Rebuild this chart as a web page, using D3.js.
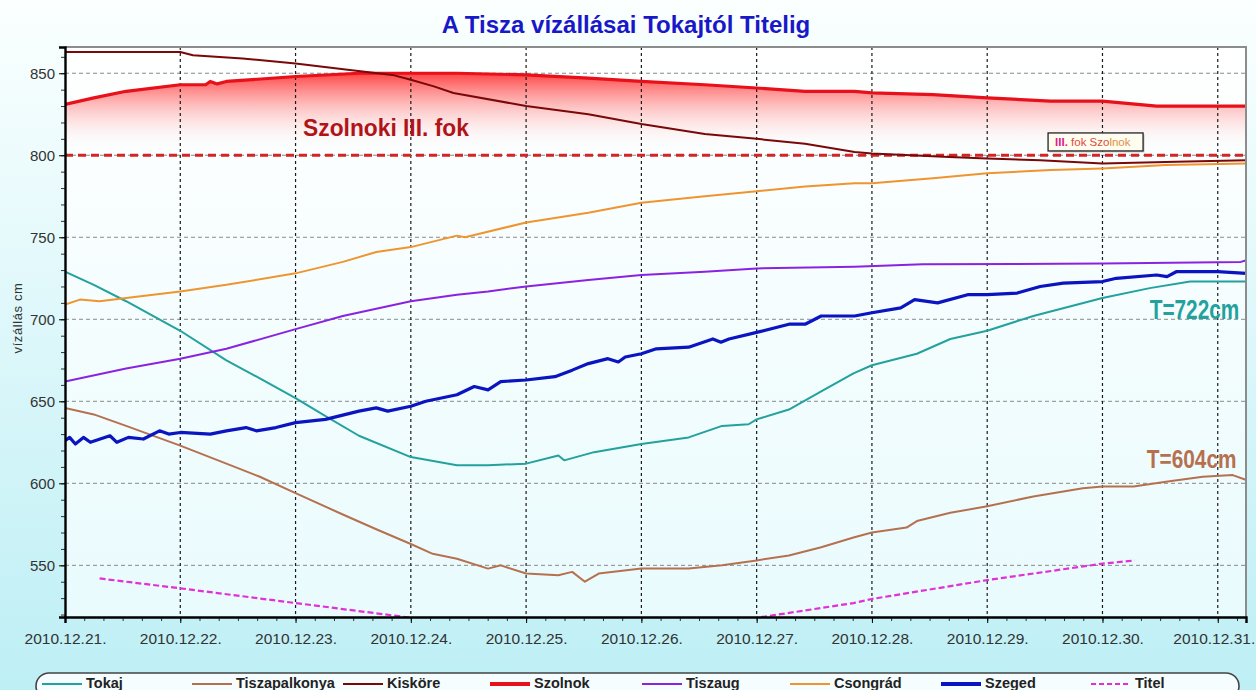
<!DOCTYPE html>
<html lang='hu'>
  <head>
    <meta charset='utf-8'>
    <title>A Tisza vízállásai Tokajtól Titelig</title>
    <script src='https://cdn.jsdelivr.net/npm/d3@7'></script>
    <style>
      html, body { margin: 0; padding: 0; }
      body { width: 1256px; height: 690px; overflow: hidden; }
      svg { display: block; font-family: 'Liberation Sans', Arial, sans-serif; }
    </style>
  </head>
  <body>
    <div class='vis'></div>
    <script>
      // water levels (cm), [day offset from 2010.12.21 00:00, value]
      const tokaj = [[0,729],[0.25,721],[0.53,711],[1,693],[1.4,675],[1.69,664],[2,652],[2.26,641],[2.55,629],[3,616],[3.4,611],[3.67,611],[4,612],[4.28,617],[4.33,614],[4.59,619],[5,624],[5.41,628],[5.7,635],[5.93,636],[6,639],[6.28,645],[6.56,656],[6.84,667],[7,672],[7.39,679],[7.68,688],[8,693],[8.4,702],[9,713],[9.41,719],[9.76,723],[10.25,723]];
      const tiszapalkonya = [[0,646],[0.25,642],[0.53,635],[1,623],[1.4,612],[1.69,604],[2,594],[2.41,581],[2.7,572],[3,563],[3.19,557],[3.4,554],[3.67,548],[3.78,550],[4,545],[4.28,544],[4.4,546],[4.51,540],[4.63,545],[5,548],[5.41,548],[5.7,550],[6,553],[6.28,556],[6.56,561],[6.84,567],[7,570],[7.3,573],[7.39,577],[7.68,582],[8,586],[8.4,592],[8.83,597],[9,598],[9.27,598],[9.55,601],[9.87,604],[10.13,605],[10.25,602]];
      const kiskore = [[0,863],[1,863],[1.11,861],[1.54,859],[2,856],[2.47,852],[2.84,849],[3,846],[3.2,842],[3.37,838],[4,830],[4.54,825],[5,819],[5.55,813],[6,810],[6.42,807],[6.85,802],[7,801],[7.67,799],[8,798],[8.46,797],[9,795],[9.64,796],[10.25,797]];
      const szolnok = [[0,831],[0.25,835],[0.53,839],[1,843],[1.22,843],[1.26,845],[1.32,843.5],[1.4,845],[2,848],[2.55,850],[3,850],[3.4,850],[4,849],[4.54,847],[5,845],[5.55,843],[6,841],[6.42,839],[6.85,839],[7,838],[7.53,837],[8,835],[8.55,833],[9,833],[9.47,830],[10,830],[10.25,830]];
      const tiszaug = [[0,662],[0.53,670],[1,676],[1.4,682],[2,694],[2.41,702],[3,711],[3.4,715],[3.67,717],[4,720],[4.54,724],[5,727],[5.55,729],[6,731],[6.85,732],[7.44,733.5],[9,734],[10.2,735],[10.25,736]];
      const csongrad = [[0,709],[0.13,712],[0.3,711],[0.53,713],[1,717],[1.4,721],[2,728],[2.41,735],[2.7,741],[3,744],[3.4,751],[3.47,750],[4,759],[4.54,765],[5,771],[5.55,775],[6,778],[6.42,781],[6.85,783],[7,783],[7.53,786],[8,789],[8.55,791],[9,792],[9.55,794],[10.25,795]];
      const szeged = [[0,626],[0.04,628],[0.09,624],[0.16,628],[0.22,625],[0.39,629],[0.45,625],[0.55,628],[0.68,627],[0.82,632],[0.9,630],[1,631],[1.26,630],[1.4,632],[1.57,634],[1.66,632],[1.83,634],[2,637],[2.26,639],[2.55,644],[2.7,646],[2.8,644],[3,647],[3.13,650],[3.4,654],[3.55,659],[3.67,657],[3.78,662],[4,663],[4.25,665],[4.4,669],[4.54,673],[4.71,676],[4.8,674],[4.86,677],[5,679],[5.13,682],[5.41,683],[5.62,688],[5.69,686],[5.76,688],[6,692],[6.28,697],[6.42,697],[6.56,702],[6.85,702],[7,704],[7.25,707],[7.37,712],[7.57,710],[7.83,715],[8,715],[8.26,716],[8.46,720],[8.66,722],[9,723],[9.12,725],[9.47,727],[9.56,726],[9.64,729],[10,729],[10.25,728]];
      const titel = [[0.3,542],[1,536],[2,527],[2.84,519.5],[3,518],[3.5,514],[4,511],[4.5,509],[5,508],[5.5,511],[6,518],[6.84,527],[7,529.5],[8,541],[9,551],[9.28,553]];

      const stationNames = ['Tokaj', 'Tiszapalkonya', 'Kisköre', 'Szolnok', 'Tiszaug', 'Csongrád', 'Szeged', 'Titel'];
      const stationData = [tokaj, tiszapalkonya, kiskore, szolnok, tiszaug, csongrad, szeged, titel];
      const stationColors = ['#22a19e', '#b5714f', '#7a0808', '#e8101a', '#8a22e2', '#ef9530', '#0a14c0', '#e030d6'];
      const stationWidths = [2, 2, 2, 3.2, 2, 2, 3.2, 2.2];

      const dayTicks = d3.range(0, 11);
      const levelTicks = [550, 600, 650, 700, 750, 800, 850];
      const alertLevel = 800;

      const W = 1256, H = 690;
      const plot = {left: 65, right: 1246, top: 47, bottom: 617};
      const base = new Date(2010, 11, 21);
      const toDate = (d) => new Date(base.getTime() + d * 864e5);

      const x = d3.scaleTime()
        .domain([base, toDate(10.245)])
        .range([plot.left, plot.right]);
      const y = d3.scaleLinear()
        .domain([518.5, 866])
        .range([plot.bottom, plot.top]);

      const svg = d3.select('.vis').append('svg')
        .attr('width', W).attr('height', H);
      const defs = svg.append('defs');

      // gradients
      const bg = defs.append('linearGradient').attr('id', 'bg')
        .attr('x1', 0).attr('y1', 0).attr('x2', 0).attr('y2', 1);
      bg.append('stop').attr('offset', 0).attr('stop-color', '#fbffff');
      bg.append('stop').attr('offset', 1).attr('stop-color', '#bdeff5');

      const pbg = defs.append('linearGradient').attr('id', 'pbg')
        .attr('x1', 0).attr('y1', 0).attr('x2', 0).attr('y2', 1);
      pbg.append('stop').attr('offset', 0).attr('stop-color', '#ffffff');
      pbg.append('stop').attr('offset', 1).attr('stop-color', '#e9fbfd');

      const redFill = defs.append('linearGradient').attr('id', 'redfill')
        .attr('gradientUnits', 'userSpaceOnUse')
        .attr('x1', 0).attr('x2', 0).attr('y1', y(852)).attr('y2', y(alertLevel + 2));
      redFill.append('stop').attr('offset', 0).attr('stop-color', '#ff2a2a').attr('stop-opacity', 0.95);
      redFill.append('stop').attr('offset', 1).attr('stop-color', '#ffffff').attr('stop-opacity', 0);

      defs.append('clipPath').attr('id', 'clip').append('rect')
        .attr('x', plot.left).attr('y', plot.top)
        .attr('width', plot.right - plot.left).attr('height', plot.bottom - plot.top);

      svg.append('rect').attr('width', W).attr('height', H).attr('fill', 'url(#bg)');
      svg.append('rect')
        .attr('x', plot.left).attr('y', plot.top)
        .attr('width', plot.right - plot.left).attr('height', plot.bottom - plot.top)
        .attr('fill', 'url(#pbg)');

      // title
      svg.append('text')
        .attr('x', 626).attr('y', 33)
        .attr('text-anchor', 'middle')
        .attr('font-size', 24).attr('font-weight', 'bold')
        .attr('fill', '#1818c8')
        .text('A Tisza vízállásai Tokajtól Titelig');

      const inner = svg.append('g').attr('clip-path', 'url(#clip)');

      // red area between Szolnok and the alert level
      inner.append('path')
        .datum(szolnok)
        .attr('fill', 'url(#redfill)')
        .attr('d', d3.area()
          .x((d) => x(toDate(d[0])))
          .y0(y(alertLevel))
          .y1((d) => y(d[1])));

      // grid
      inner.append('g').selectAll('line')
        .data(levelTicks).enter().append('line')
          .attr('x1', plot.left).attr('x2', plot.right)
          .attr('y1', (d) => y(d)).attr('y2', (d) => y(d))
          .attr('stroke', '#8a8a8a').attr('stroke-width', 1)
          .attr('stroke-dasharray', '4,3');
      inner.append('g').selectAll('line')
        .data(dayTicks.slice(1)).enter().append('line')
          .attr('x1', (d) => x(toDate(d))).attr('x2', (d) => x(toDate(d)))
          .attr('y1', plot.top).attr('y2', plot.bottom)
          .attr('stroke', '#1a1a1a').attr('stroke-width', 1.2)
          .attr('stroke-dasharray', '3,3');

      // alert level line
      inner.append('line')
        .attr('x1', plot.left).attr('x2', plot.right)
        .attr('y1', y(alertLevel)).attr('y2', y(alertLevel))
        .attr('stroke', '#d42424').attr('stroke-width', 3.2)
        .attr('stroke-dasharray', '8,5');

      // station lines
      const line = d3.line()
        .x((d) => x(toDate(d[0])))
        .y((d) => y(d[1]));
      const drawOrder = [7, 1, 0, 5, 4, 6, 3, 2];
      drawOrder.forEach((i) => {
        inner.append('path')
          .datum(stationData[i])
          .attr('fill', 'none')
          .attr('stroke', stationColors[i])
          .attr('stroke-width', stationWidths[i])
          .attr('stroke-linejoin', 'round')
          .attr('stroke-dasharray', stationNames[i] === 'Titel' ? '6,3' : null)
          .attr('d', line);
      });

      // frame
      svg.append('path')
        .attr('d', `M${plot.left},${plot.top}H${plot.right}V${plot.bottom}`)
        .attr('fill', 'none').attr('stroke', '#8c8c8c').attr('stroke-width', 2);

      // axes
      const xMinor = d3.axisBottom(x).ticks(d3.timeHour.every(4)).tickSize(4).tickFormat('');
      svg.append('g')
        .attr('transform', `translate(0,${plot.bottom})`)
        .call(xMinor)
        .call((g) => g.select('.domain').remove())
        .call((g) => g.selectAll('line').attr('stroke', '#333'));

      const xAxis = d3.axisBottom(x)
        .tickValues(dayTicks.map(toDate))
        .tickSize(6).tickPadding(10)
        .tickFormat(d3.timeFormat('%Y.%m.%d.'));
      svg.append('g')
        .attr('transform', `translate(0,${plot.bottom})`)
        .call(xAxis)
        .call((g) => g.select('.domain').attr('stroke', '#000').attr('stroke-width', 2.4))
        .call((g) => g.selectAll('line').attr('stroke', '#000'))
        .call((g) => g.selectAll('text')
          .attr('font-size', 15.5).attr('fill', '#333')
          .attr('font-family', "'Liberation Sans', Arial, sans-serif"))
        .call((g) => g.selectAll('.tick:last-of-type text').attr('dx', -4));

      const yMinor = d3.axisLeft(y).tickValues(d3.range(520, 866, 10)).tickSize(4).tickFormat('');
      svg.append('g')
        .attr('transform', `translate(${plot.left},0)`)
        .call(yMinor)
        .call((g) => g.select('.domain').remove())
        .call((g) => g.selectAll('line').attr('stroke', '#333'));

      const yAxis = d3.axisLeft(y).tickValues(levelTicks).tickSize(6).tickPadding(4);
      svg.append('g')
        .attr('transform', `translate(${plot.left},0)`)
        .call(yAxis)
        .call((g) => g.select('.domain').attr('stroke', '#000').attr('stroke-width', 2.4))
        .call((g) => g.selectAll('line').attr('stroke', '#000'))
        .call((g) => g.selectAll('text')
          .attr('font-size', 15).attr('fill', '#333')
          .attr('font-family', "'Liberation Sans', Arial, sans-serif"));

      svg.append('text')
        .attr('transform', 'translate(22,318) rotate(-90)')
        .attr('text-anchor', 'middle')
        .attr('font-size', 13).attr('fill', '#333')
        .attr('letter-spacing', 0.6)
        .text('vízállás cm');

      // annotations (condensed bold labels)
      svg.append('text')
        .attr('transform', `translate(${x(toDate(2.065))},${y(811.8)}) scale(0.95,1)`)
        .attr('font-size', 24).attr('font-weight', 'bold')
        .attr('fill', '#b01418')
        .text('Szolnoki III. fok');

      svg.append('text')
        .attr('transform', `translate(${x(toDate(9.41))},${y(700)}) scale(0.77,1)`)
        .attr('font-size', 27).attr('font-weight', 'bold')
        .attr('fill', '#22a19e')
        .text('T=722cm');

      svg.append('text')
        .attr('transform', `translate(${x(toDate(9.385))},${y(609.5)}) scale(0.8,1)`)
        .attr('font-size', 26).attr('font-weight', 'bold')
        .attr('fill', '#b5714f')
        .text('T=604cm');

      const tag = svg.append('g')
        .attr('transform', `translate(${x(toDate(8.528))},${y(813.6)})`);
      tag.append('rect')
        .attr('x', 1.5).attr('y', 1.5).attr('width', 95).attr('height', 18)
        .attr('fill', '#9a9a9a').attr('opacity', 0.5);
      tag.append('rect')
        .attr('width', 95).attr('height', 18)
        .attr('fill', '#fffdf0').attr('stroke', '#222').attr('stroke-width', 1.3);
      const tagText = tag.append('text')
        .attr('x', 7).attr('y', 13)
        .attr('font-size', 11.5);
      tagText.append('tspan').attr('fill', '#e0208c').attr('font-weight', 'bold').text('III.');
      tagText.append('tspan').attr('fill', '#e04a3a').text(' fok Szo');
      tagText.append('tspan').attr('fill', '#c99a10').text('l');
      tagText.append('tspan').attr('fill', '#e0904a').text('nok');

      // legend
      const legendX = [42, 192, 343, 490, 642, 790, 941, 1091];
      const legendY = 684;
      const legend = svg.append('g');
      legend.append('rect')
        .attr('x', 36).attr('y', 673).attr('width', 1203).attr('height', 26).attr('rx', 13)
        .attr('fill', '#f6fdfe').attr('stroke', '#444').attr('stroke-width', 1.6);
      const items = legend.selectAll('g.item')
        .data(stationNames).enter().append('g')
          .attr('class', 'item')
          .attr('transform', (d, i) => `translate(${legendX[i]},${legendY})`);
      items.append('line')
        .attr('x1', 0).attr('x2', 40)
        .attr('stroke', (d, i) => stationColors[i])
        .attr('stroke-width', (d, i) => stationWidths[i] > 3 ? 4 : 2.2)
        .attr('stroke-dasharray', (d) => d === 'Titel' ? '5,3' : null);
      items.append('text')
        .attr('x', 44).attr('y', 4)
        .attr('font-size', 14.5).attr('font-weight', 'bold').attr('fill', '#222')
        .text((d) => d);
    </script>
  </body>
</html>
